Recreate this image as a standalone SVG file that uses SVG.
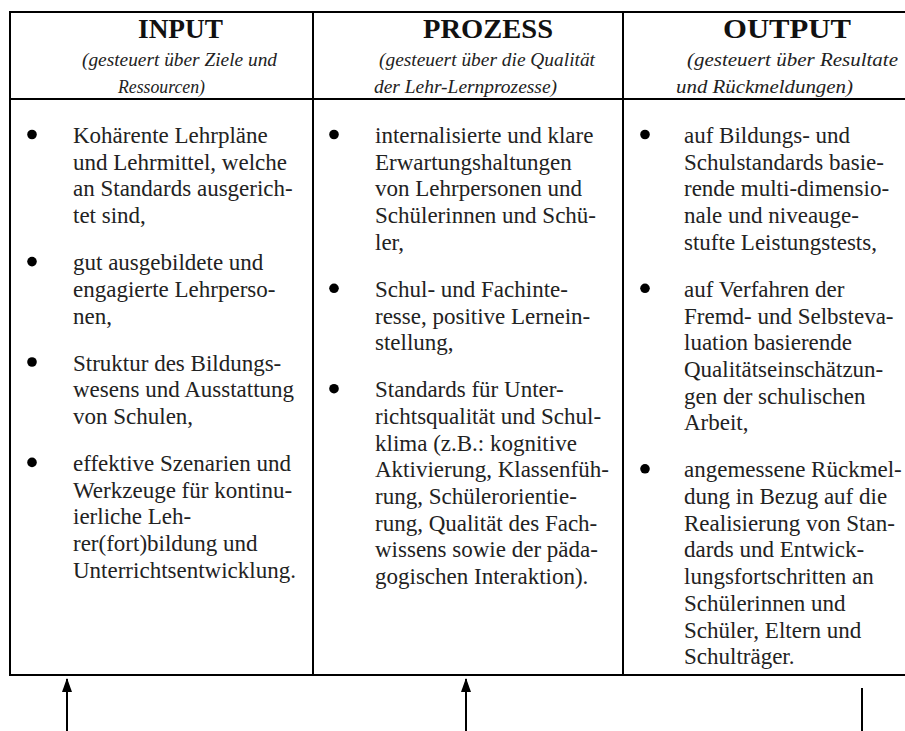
<svg xmlns="http://www.w3.org/2000/svg" width="905" height="731" viewBox="0 0 905 731">
  <style>
    .rule { stroke: #000; stroke-width: 2; fill: none; }
    .head { font-family: "Liberation Serif", "Times New Roman", serif; font-weight: bold; font-size: 28px; fill: #111; }
    .sub { font-family: "Liberation Serif", "Times New Roman", serif; font-style: italic; font-size: 19px; fill: #222; }
    .body { font-family: "Liberation Serif", "Times New Roman", serif; font-size: 23px; fill: #222; }
    .dot { fill: #000; }
    .conn { stroke: #000; stroke-width: 2; fill: none; }
  </style>
  <defs>
    <marker id="head" viewBox="0 0 14 10" refX="13" refY="5" markerWidth="14" markerHeight="10" markerUnits="userSpaceOnUse" orient="auto">
      <path d="M0,0 L14,5 L0,10 z" fill="#000"/>
    </marker>
  </defs>
  <rect width="905" height="731" fill="#fff"/>

  <!-- table frame -->
  <g id="table">
    <line class="rule" x1="9" y1="12" x2="905" y2="12"/>
    <line class="rule" x1="9" y1="99" x2="905" y2="99"/>
    <line class="rule" x1="9" y1="675" x2="905" y2="675"/>
    <line class="rule" x1="10" y1="11" x2="10" y2="676"/>
    <line class="rule" x1="313" y1="11" x2="313" y2="676"/>
    <line class="rule" x1="623" y1="11" x2="623" y2="676"/>
  </g>

  <!-- column: input -->
  <g id="input">
    <text class="head" x="138" y="38" textLength="85" lengthAdjust="spacingAndGlyphs">INPUT</text>
    <text class="sub" x="82" y="66" textLength="195" lengthAdjust="spacingAndGlyphs">(gesteuert über Ziele und</text>
    <text class="sub" x="118" y="93" textLength="87" lengthAdjust="spacingAndGlyphs">Ressourcen)</text>
    <circle class="dot" cx="32" cy="134.5" r="4.8"/>
    <text class="body" x="73" y="143">Kohärente Lehrpläne</text>
    <text class="body" x="73" y="169.7">und Lehrmittel, welche</text>
    <text class="body" x="73" y="196.4">an Standards ausgerich-</text>
    <text class="body" x="73" y="223.1">tet sind,</text>
    <circle class="dot" cx="32" cy="261.6" r="4.8"/>
    <text class="body" x="73" y="270.1">gut ausgebildete und</text>
    <text class="body" x="73" y="296.8">engagierte Lehrperso-</text>
    <text class="body" x="73" y="323.5">nen,</text>
    <circle class="dot" cx="32" cy="362" r="4.8"/>
    <text class="body" x="73" y="370.5">Struktur des Bildungs-</text>
    <text class="body" x="73" y="397.2">wesens und Ausstattung</text>
    <text class="body" x="73" y="423.9">von Schulen,</text>
    <circle class="dot" cx="32" cy="462.4" r="4.8"/>
    <text class="body" x="73" y="470.9">effektive Szenarien und</text>
    <text class="body" x="73" y="497.6">Werkzeuge für kontinu-</text>
    <text class="body" x="73" y="524.3">ierliche Leh-</text>
    <text class="body" x="73" y="551">rer(fort)bildung und</text>
    <text class="body" x="73" y="577.7">Unterrichtsentwicklung.</text>
  </g>

  <!-- column: prozess -->
  <g id="prozess">
    <text class="head" x="423" y="38" textLength="130" lengthAdjust="spacingAndGlyphs">PROZESS</text>
    <text class="sub" x="379" y="66" textLength="216" lengthAdjust="spacingAndGlyphs">(gesteuert über die Qualität</text>
    <text class="sub" x="374" y="93" textLength="183" lengthAdjust="spacingAndGlyphs">der Lehr-Lernprozesse)</text>
    <circle class="dot" cx="334" cy="134.5" r="4.8"/>
    <text class="body" x="375" y="143">internalisierte und klare</text>
    <text class="body" x="375" y="169.7">Erwartungshaltungen</text>
    <text class="body" x="375" y="196.4">von Lehrpersonen und</text>
    <text class="body" x="375" y="223.1">Schülerinnen und Schü-</text>
    <text class="body" x="375" y="249.8">ler,</text>
    <circle class="dot" cx="334" cy="288.3" r="4.8"/>
    <text class="body" x="375" y="296.8">Schul- und Fachinte-</text>
    <text class="body" x="375" y="323.5">resse, positive Lernein-</text>
    <text class="body" x="375" y="350.2">stellung,</text>
    <circle class="dot" cx="334" cy="388.7" r="4.8"/>
    <text class="body" x="375" y="397.2">Standards für Unter-</text>
    <text class="body" x="375" y="423.9">richtsqualität und Schul-</text>
    <text class="body" x="375" y="450.6">klima (z.B.: kognitive</text>
    <text class="body" x="375" y="477.3">Aktivierung, Klassenfüh-</text>
    <text class="body" x="375" y="504">rung, Schülerorientie-</text>
    <text class="body" x="375" y="530.7">rung, Qualität des Fach-</text>
    <text class="body" x="375" y="557.4">wissens sowie der päda-</text>
    <text class="body" x="375" y="584.1">gogischen Interaktion).</text>
  </g>

  <!-- column: output -->
  <g id="output">
    <text class="head" x="723" y="38" textLength="128" lengthAdjust="spacingAndGlyphs">OUTPUT</text>
    <text class="sub" x="687" y="66" textLength="211" lengthAdjust="spacingAndGlyphs">(gesteuert über Resultate</text>
    <text class="sub" x="676" y="93" textLength="177" lengthAdjust="spacingAndGlyphs">und Rückmeldungen)</text>
    <circle class="dot" cx="645" cy="134.5" r="4.8"/>
    <text class="body" x="684" y="143">auf Bildungs- und</text>
    <text class="body" x="684" y="169.7">Schulstandards basie-</text>
    <text class="body" x="684" y="196.4">rende multi-dimensio-</text>
    <text class="body" x="684" y="223.1">nale und niveauge-</text>
    <text class="body" x="684" y="249.8">stufte Leistungstests,</text>
    <circle class="dot" cx="645" cy="288.3" r="4.8"/>
    <text class="body" x="684" y="296.8">auf Verfahren der</text>
    <text class="body" x="684" y="323.5">Fremd- und Selbsteva-</text>
    <text class="body" x="684" y="350.2">luation basierende</text>
    <text class="body" x="684" y="376.9">Qualitätseinschätzun-</text>
    <text class="body" x="684" y="403.6">gen der schulischen</text>
    <text class="body" x="684" y="430.3">Arbeit,</text>
    <circle class="dot" cx="645" cy="468.8" r="4.8"/>
    <text class="body" x="684" y="477.3">angemessene Rückmel-</text>
    <text class="body" x="684" y="504">dung in Bezug auf die</text>
    <text class="body" x="684" y="530.7">Realisierung von Stan-</text>
    <text class="body" x="684" y="557.4">dards und Entwick-</text>
    <text class="body" x="684" y="584.1">lungsfortschritten an</text>
    <text class="body" x="684" y="610.8">Schülerinnen und</text>
    <text class="body" x="684" y="637.5">Schüler, Eltern und</text>
    <text class="body" x="684" y="664.2">Schulträger.</text>
  </g>

  <!-- connectors below the table -->
  <g id="connectors">
    <line class="conn" x1="67" y1="731" x2="67" y2="679" marker-end="url(#head)"/>
    <line class="conn" x1="466" y1="731" x2="466" y2="679" marker-end="url(#head)"/>
    <line class="conn" x1="862" y1="688" x2="862" y2="731"/>
  </g>
</svg>
